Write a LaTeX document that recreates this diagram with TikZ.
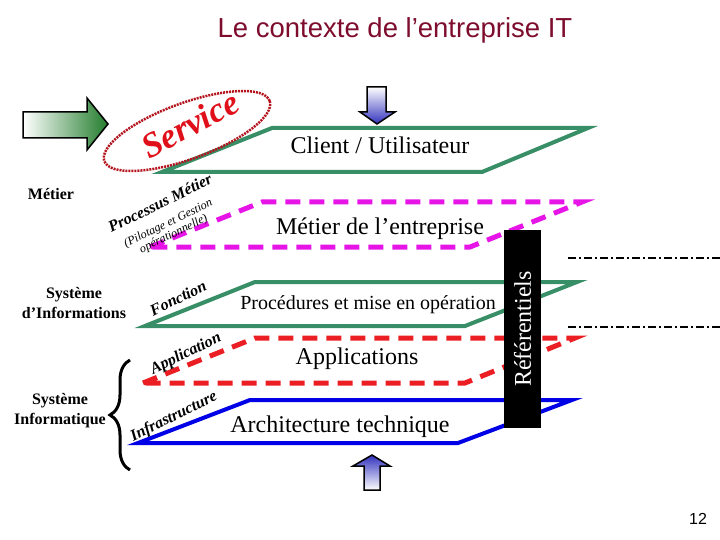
\documentclass[tikz,border=0pt]{standalone}
\usepackage{fontspec}
\setmainfont{Liberation Serif}[BoldFont={Liberation Serif Bold},ItalicFont={Liberation Serif Italic},BoldItalicFont={Liberation Serif Bold Italic}]
\newfontfamily\titlefont{Liberation Sans}
\usetikzlibrary{shapes.geometric,decorations.pathreplacing}

\definecolor{planegreen}{RGB}{56,142,102}
\definecolor{planemagenta}{RGB}{230,20,230}
\definecolor{planered}{RGB}{235,30,35}
\definecolor{planeblue}{RGB}{0,0,230}
\definecolor{titlered}{RGB}{125,12,45}
\definecolor{svcred}{RGB}{224,16,26}
\definecolor{dotred}{RGB}{180,20,30}
\definecolor{arrowgreen}{RGB}{35,125,45}
\definecolor{arrowblue}{RGB}{50,50,190}

\begin{document}
\begin{tikzpicture}[x=1pt,y=-1pt,
    plane/.style={line width=4pt},
    dashplane/.style={line width=5pt,dash pattern=on 15pt off 9pt},
    box text/.style={anchor=base,font=\fontsize{24}{28}\selectfont},
    side text/.style={align=center,font=\bfseries\fontsize{16}{20}\selectfont},
    layer name/.style={rotate=26,font=\bfseries\itshape\fontsize{16}{18}\selectfont},
    shaded arrow/.style={draw=black,line width=1.5pt,line join=miter},
    ref line/.style={line width=2.5pt,dash pattern=on 8pt off 3pt on 2pt off 3pt}]

  \useasboundingbox (0,0) rectangle (720,540);

  \node[anchor=base,text=titlered,font=\titlefont\fontsize{27.5}{30}\selectfont] (title) at (395,38) {Le contexte de l’entreprise IT};

  \draw[plane,draw=planegreen] (162,172) -- (272,128) -- (588,128) -- (482,172) -- cycle;
  \draw[dashplane,draw=planemagenta] (150,247) -- (262,202) -- (582,202) -- (470,247) -- cycle;
  \draw[plane,draw=planegreen] (145,326) -- (255,282) -- (577,282) -- (465,326) -- cycle;
  \draw[dashplane,draw=planered] (143,383) -- (255,338) -- (575,338) -- (465,383) -- cycle;
  \draw[plane,draw=planeblue] (138,443) -- (250,400) -- (572,400) -- (458,443) -- cycle;

  \draw[shaded arrow,left color=white,right color=arrowgreen] (23,112) -- (87,112) -- (87,98) -- (108,124) -- (87,150) -- (87,138) -- (23,138) -- cycle;
  \draw[shaded arrow,top color=white,bottom color=arrowblue] (367,87) -- (386,87) -- (386,112) -- (395,112) -- (377,124) -- (360,112) -- (367,112) -- cycle;
  \draw[shaded arrow,top color=arrowblue,bottom color=white] (364,490) -- (364,466) -- (353,466) -- (372,455) -- (390,466) -- (380,466) -- (380,490) -- cycle;

  \node[ellipse,draw=dotred,line width=2.5pt,dash pattern=on 2pt off 1pt,rotate=20,minimum width=176pt,minimum height=56pt] (svc) at (187,131) {};
  \node[rotate=28,text=svcred,font=\bfseries\itshape\fontsize{35}{38}\selectfont] (svc text) at (190,124) {Service};

  \node[fill=black,text=white,rotate=90,inner sep=0pt,minimum width=198pt,minimum height=37pt,font=\fontsize{24}{28}\selectfont] (ref) at (522.5,329) {Référentiels};

  \coordinate (ref1 a) at (568,258);
  \coordinate (ref1 b) at (720,258);
  \coordinate (ref2 a) at (568,327);
  \coordinate (ref2 b) at (720,327);
  \draw[ref line] (ref1 a) -- (ref1 b);
  \draw[ref line] (ref2 a) -- (ref2 b);

  \node[box text] (client) at (380,154) {Client / Utilisateur};
  \node[box text] (entr) at (380,234) {Métier de l’entreprise};
  \node[box text,font=\fontsize{20}{24}\selectfont] (procs) at (368,309) {Procédures et mise en opération};
  \node[box text] (apps) at (357,364) {Applications};
  \node[box text] (arch) at (340,432) {Architecture technique};

  \node[layer name] (procmet) at (160,203) {Processus Métier};
  \node[rotate=26,align=center,font=\itshape\fontsize{12}{12}\selectfont] (pilot) at (171,229) {(Pilotage et Gestion\\opérationnelle)};
  \node[layer name] (fonc) at (178,298) {Fonction};
  \node[layer name] (appl) at (186,354) {Application};
  \node[layer name] (infra) at (174,417) {Infrastructure};

  \node[side text,anchor=base] (metier) at (51,200) {Métier};
  \node[side text] (sinfo) at (74,303) {Système\\d’Informations};
  \node[side text] (sinfq) at (60,411) {Système\\Informatique};
  \coordinate (si top) at (130,360);
  \coordinate (si bot) at (130,470);
  \draw[line width=3pt,decorate,decoration={brace,amplitude=20pt}] (si bot) -- (si top);

  \node[font=\titlefont\fontsize{16}{18}\selectfont] (page) at (698,519) {12};
\end{tikzpicture}
\end{document}
